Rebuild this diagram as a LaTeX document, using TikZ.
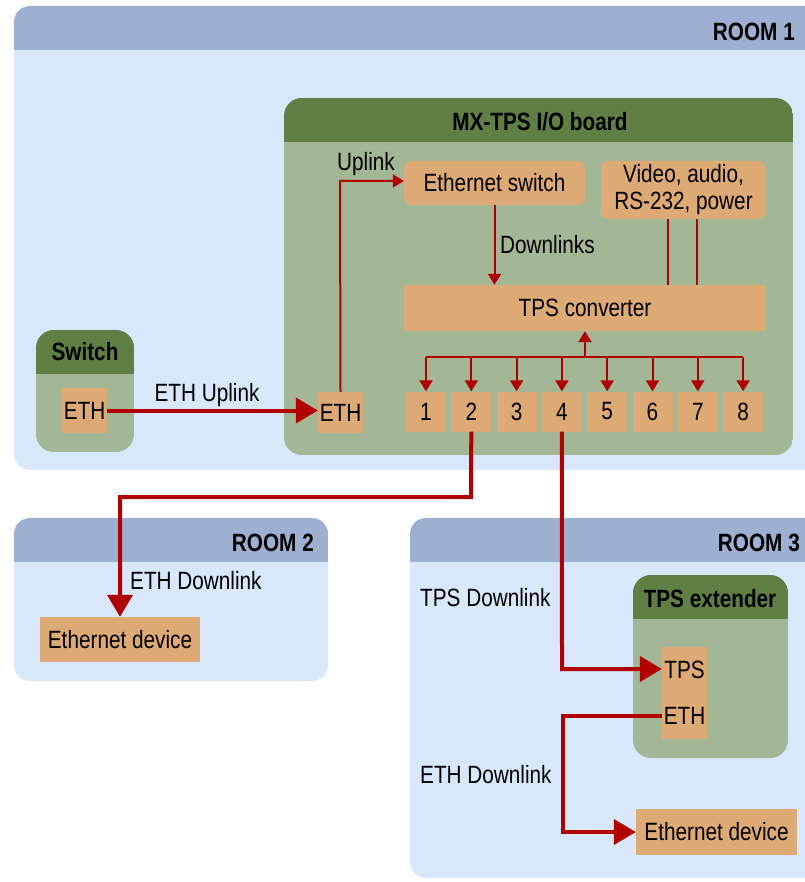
\documentclass[tikz,border=0pt]{standalone}
\usepackage{fontspec}
\setmainfont{Liberation Sans}[FakeStretch=0.83]
\usetikzlibrary{arrows.meta}

\definecolor{roomHead}{HTML}{9DB0D2}
\definecolor{roomBody}{HTML}{D9E7FB}
\definecolor{boardHead}{HTML}{617F45}
\definecolor{boardBody}{HTML}{A3B695}
\definecolor{portFill}{HTML}{DDAA75}
\definecolor{linkRed}{HTML}{B00000}

\providecommand{\thinlink}{2pt}
\providecommand{\thicklink}{4pt}

\begin{document}
\begin{tikzpicture}[
    x=1pt, y=-1pt,
    every node/.style={font=\fontsize{25pt}{27pt}\selectfont, text=black},
    % Box styles
    port/.style={
        rectangle,
        fill=portFill,
        inner sep=0pt
    },
    portsq/.style={port, minimum width=40pt, minimum height=40pt},
    roundport/.style={port, rounded corners=8pt},
    title/.style={font=\fontsize{25pt}{27pt}\selectfont\bfseries, inner sep=0pt},
    linklabel/.style={inner sep=0pt},
    % Edge styles
    thin_link/.style={
        line width=\thinlink,
        draw=linkRed
    },
    thin_arrow/.style={thin_link, -{Triangle[length=11pt, width=13pt]}},
    thick_link/.style={
        line width=\thicklink,
        draw=linkRed
    },
    thick_arrow/.style={thick_link, -{Triangle[length=22pt, width=25pt]}}
]
    \useasboundingbox (0,0) rectangle (804,882);

    % ==================== ROOMS ====================
    % Room 1
    \begin{scope}
        \clip[rounded corners=16pt] (14,6) rectangle (830,470);
        \fill[roomBody] (14,6) rectangle (830,470);
        \fill[roomHead] (14,6) rectangle (830,50);
    \end{scope}
    \node[title, anchor=east] (room1) at (795,32) {ROOM 1};

    % Room 2
    \begin{scope}
        \clip[rounded corners=16pt] (14,518) rectangle (328,681);
        \fill[roomBody] (14,518) rectangle (328,681);
        \fill[roomHead] (14,518) rectangle (328,562);
    \end{scope}
    \node[title, anchor=east] (room2) at (314,543) {ROOM 2};

    % Room 3
    \begin{scope}
        \clip[rounded corners=16pt] (410,518) rectangle (830,878);
        \fill[roomBody] (410,518) rectangle (830,878);
        \fill[roomHead] (410,518) rectangle (830,562);
    \end{scope}
    \node[title, anchor=east] (room3) at (800,543) {ROOM 3};

    % ==================== DEVICES ====================
    % MX-TPS I/O board
    \begin{scope}
        \clip[rounded corners=18pt] (284,98) rectangle (793,455);
        \fill[boardBody] (284,98) rectangle (793,455);
        \fill[boardHead] (284,98) rectangle (793,142);
    \end{scope}
    \node[title] (boardtitle) at (540,122) {MX-TPS I/O board};

    % Switch
    \begin{scope}
        \clip[rounded corners=18pt] (36,330) rectangle (134,452);
        \fill[boardBody] (36,330) rectangle (134,452);
        \fill[boardHead] (36,330) rectangle (134,374);
    \end{scope}
    \node[title] (switchtitle) at (85,352) {Switch};

    % TPS extender
    \begin{scope}
        \clip[rounded corners=18pt] (633,575) rectangle (788,758);
        \fill[boardBody] (633,575) rectangle (788,758);
        \fill[boardHead] (633,575) rectangle (788,619);
    \end{scope}
    \node[title] (extendertitle) at (710,599) {TPS extender};

    % ==================== PORTS AND BLOCKS ====================
    \node[roundport, minimum width=181pt, minimum height=44pt] (ethswitch) at (494.5,183) {Ethernet switch};
    \node[roundport, minimum width=165pt, minimum height=58pt, align=center] (video) at (683.5,190) {Video, audio,\\RS-232, power};
    \node[port, minimum width=362pt, minimum height=46pt] (converter) at (585,308) {TPS converter};

    \foreach \i in {1,...,8}
        \node[portsq] (p\i) at ({426+(\i-1)*45.3},411.5) {\i};

    \node[port, minimum width=45pt, minimum height=41pt] (boardeth) at (340.5,412.5) {ETH};
    \node[port, minimum width=45pt, minimum height=45pt] (switcheth) at (84.5,410.5) {ETH};

    \node[port, minimum width=160pt, minimum height=45pt] (device2) at (120,639.5) {Ethernet device};

    \node[port, minimum width=45pt, minimum height=92pt] (extport) at (684.5,693) {};
    \node (extTPS) at (684.5,670) {TPS};
    \node (extETH) at (684.5,716) {ETH};

    \node[port, minimum width=161pt, minimum height=46pt] (device3) at (716.5,832) {Ethernet device};

    % ==================== LINKS INSIDE THE BOARD ====================
    \coordinate (uplinkcorner) at (340,181);
    \draw[thin_arrow] (boardeth.north) -- (uplinkcorner) -- (uplinkcorner -| ethswitch.west);
    \node[linklabel] (uplinklabel) at (366,164) {Uplink};

    \draw[thin_arrow] (ethswitch.south) -- (ethswitch.south |- converter.north);
    \node[linklabel, anchor=west] (downlinkslabel) at (500,245) {Downlinks};

    % Signal lines from the video block
    \coordinate (sigA) at (668,219);
    \coordinate (sigB) at (697,219);
    \draw[thin_link] (sigA) -- (sigA |- converter.north);
    \draw[thin_link] (sigB) -- (sigB |- converter.north);

    % Port bus
    \coordinate (bus) at (585,357);
    \draw[thin_arrow] (bus) -- (converter.south);
    \draw[thin_link] (p1.north |- bus) -- (p8.north |- bus);
    \foreach \i in {1,...,8}
        \draw[thin_arrow] (p\i.north |- bus) -- (p\i.north);

    % ==================== LINKS BETWEEN ROOMS ====================
    \draw[thick_arrow] (switcheth.east) -- (switcheth.east -| boardeth.west);
    \node[linklabel] (ethuplinklabel) at (207,395) {ETH Uplink};

    \coordinate (room2corner) at (471,497);
    \draw[thick_arrow] (p2.south) -- (room2corner) -- (room2corner -| device2.north) -- (device2.north);
    \node[linklabel, anchor=west] (ethdown2label) at (130,581) {ETH Downlink};

    \coordinate (tpscorner) at (562,669);
    \draw[thick_arrow] (p4.south) -- (tpscorner) -- (tpscorner -| extport.west);
    \node[linklabel, anchor=west] (tpsdownlabel) at (420,598) {TPS Downlink};

    \coordinate (ethcorner) at (563,716);
    \draw[thick_arrow] (extETH -| extport.west) -- (ethcorner) -- (ethcorner |- device3.west) -- (device3.west);
    \node[linklabel, anchor=west] (ethdown3label) at (420,775) {ETH Downlink};

\end{tikzpicture}
\end{document}
